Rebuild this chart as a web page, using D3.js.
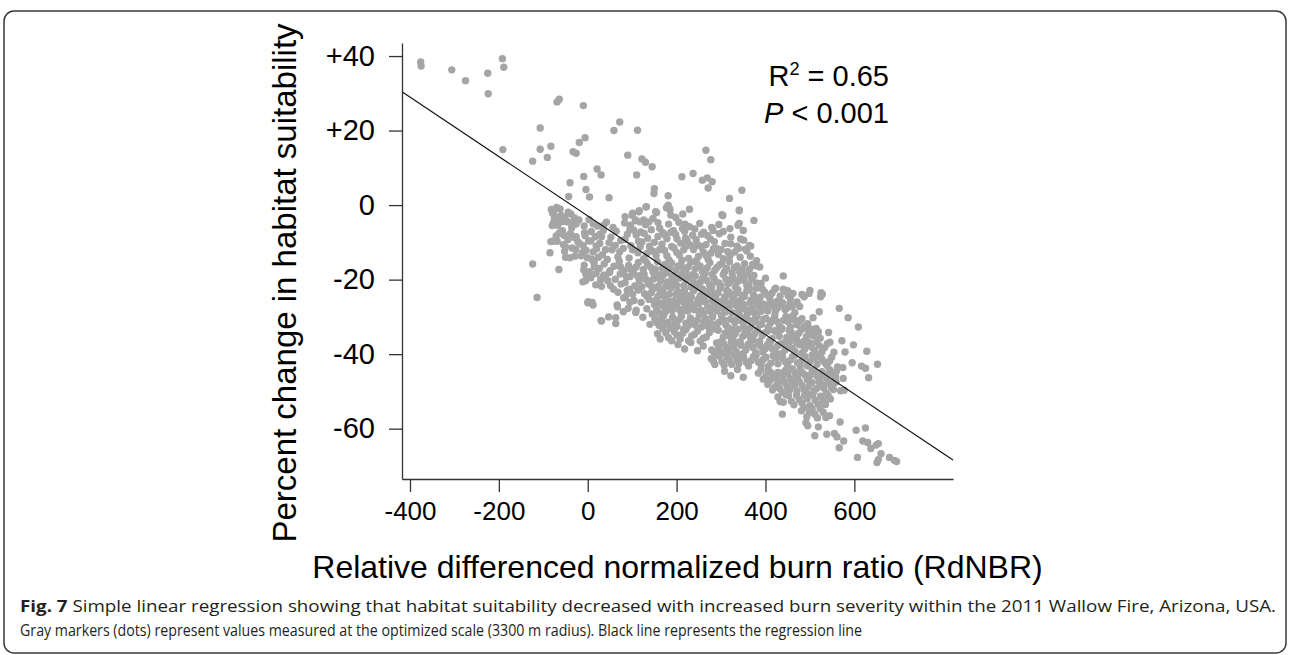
<!DOCTYPE html>
<html>
<head>
<meta charset="utf-8">
<script src="https://cdn.jsdelivr.net/npm/d3@7"></script>
<style>
  body { margin: 0; background: #fff; }
  svg { display: block; }
  .tick text { fill: #000; }
</style>
</head>
<body>
<svg width="1290" height="655"></svg>
<script>
(function () {

  // ---- data (RdNBR, % change) ----
  const xTicks = [-400, -200, 0, 200, 400, 600];
  const yTicks = [40, 20, 0, -20, -40, -60];

  // regression line as drawn
  const intercept = -2.9;
  const slope = -0.0797;
  const r2Text = "0.65";
  const pText = "< 0.001";

  const upperScatter = [
    [-376,38.4],[-375,37.3],[-306,36.3],[-275,33.4],[-225,35.4],[-224,29.9],[-192,39.3],[-189,37],[-191,14.9],
    [-69,27.7],[-64,28.4],[-10,26.7],[-107,20.7],[-124,11.8],[-107,15.0],[-91,12.8],[-83,15.8],[-33,14.3],
    [-26,13.9],[-19,16.8],[-6,18.1],[59,20],[72,22.3],[112,20.1],[90,13.4],[122,12.4],[130,11.5],[145,10.3],
    [110,8.1],[21,9.7],[30,8.1],[-9,7.7],[-40,6.0],[-4,4.2],[4,2.2],[-43,2.3],[48,2.0],[150,4.4],[149,3.1],
    [181,2.5],[212,7.6],[237,8.5],[266,14.7],[277,12.2],[258,6.7],[269,7.3],[280,6.3],[271,4.6],[319,1.8],[347,4.0]
  ];

  const edgeScatter = [
    [304,-2.8],[341,-1.3],[341,-4.9],[374,-4.1],[320,-6.3],[282,-6.8],[295,-5.2],[219,-5.1],[181,0],[185,-1.3],
    [187,-2.7],[177,-0.7],[344,-9.1],[322,-10.4],[340,-11.6],[358,-12.3],[367,-11.0],[380,-14.9],[387,-16.6],
    [440,-19.0],[423,-22.3],[450,-23.0],[525,-23.5],[528,-23.9],[487,-24.6],[498,-23.7],[521,-28.6],[566,-27.7],
    [586,-30.2],[609,-32.7],[572,-36.4],[598,-37.5],[579,-39.4],[628,-39.2],[616,-43.2],[625,-43.8],[632,-46.3],
    [652,-42.7],[595,-42.3],[575,-46.5],[577,-49.7],[558,-46.1],[551,-48.8],[542,-34.2],[562,-43.4],[574,-43.6]
  ];

  const lowerScatter = [
    [438,-56.1],[491,-58.4],[495,-59.2],[511,-61.9],[519,-59.5],[538,-61.5],[555,-61.3],[561,-62.2],[568,-58.2],
    [576,-63.3],[566,-65.1],[604,-60.4],[625,-59.8],[619,-63.3],[630,-63.7],[637,-65.3],[649,-64.4],[654,-64.0],
    [660,-66.7],[607,-67.7],[651,-69.1],[654,-68.3],[679,-67.7],[690,-68.5],[695,-68.8]
  ];

  const leftCloud = [
    [-124,-15.8],[-114,-24.8],[-85,-12.8],[-79,-9.7],[-69,-9.7],[-77,-1.5],[-69,-0.9],[-79,-2.2],[-73,-3.1],
    [-77,-4.7],[-68,-5.4],[-58,-4.5],[-47,-4.5],[-39,-4.7],[-28,-5.1],[-54,-8.1],[-39,-7.6],[-50,-11.2],
    [-65,-17.3],[-50,-14],[-29,-13.7],[-26,-8.5],[-12,-12.8],[-9,-17.4],[-11,-20.6],[-5,-20.3],[1,-25.9],
    [10,-26.1],[31,-31.1],[63,-30.2],[66,-26.8],[85,-24.6],[91,-27.7],[108,-28.8],[15,-16.5],[14,-15.5],
    [17,-8.5],[2,-9.6],[-7,-7.4],[36,-5.4],[57,-6],[36,-18.8],[50,-17.6],[74,-16.6],[87,-19.2],[96,-5.4],
    [108,-4],[117,-4.5],[100,-2.7],[115,-1.8],[132,-0.4],[126,-4],[138,-4.5],[153,-1.8],
    [-75,-3.6],[-62,-1.0],[-52,-3.3],[-38,-2.4],[-20,-4.0],[-8,-5.6],[3,-3.9],[12,-5.0],[27,-7.9],[42,-4.6],
    [52,-8.6],[64,-7.0],[74,-9.5],[62,-10.8],[72,-12.5],[-64,-7.5],[-45,-9.3],[-35,-11.5],[-22,-9.9],[-10,-10.9],
    [-1,-14.1],[12,-12.6],[27,-10.3],[40,-12.0],[24,-14.0],[-4,-18.6],[19,-18.4],[31,-21.8],[45,-20.3],[58,-22.6],
    [75,-21.2],[89,-22.9],[101,-23.9],[114,-22.8],[104,-25.6],[120,-26.1],[133,-27.8],[124,-30.1],[140,-32.0],[145,-29.2]
  ];

  const cloudUpper = [
    [-82,-1.2],[-70,-0.6],[-60,-2.8],[-44,-1.9],[-30,-3.4],[84,-3.1],[101,-2.2],[116,-1.5],[131,-0.5],[147,-3.6],
    [155,-2.0],[184,-0.8],[198,-3.3],[214,-2.4],[229,-1.1],[302,-2.6],[341,-1.5],
    [-80,-5.5],[-68,-4.6],[-57,-6.9],[-47,-4.4],[-36,-6.1],[-26,-5.0],[8,-7.1],[22,-5.6],[35,-6.8],[83,-4.8],
    [95,-6.4],[107,-4.2],[119,-7.2],[130,-5.3],[143,-6.6],[158,-4.7],[169,-7.4],[182,-5.1],[193,-6.9],[205,-4.6],
    [218,-7.0],[229,-5.8],[241,-6.4],[252,-4.9],[261,-7.3],[279,-6.0],[305,-7.1],[338,-5.4],[350,-6.8],
    [-83,-9.8],[-71,-8.3],[-55,-10.6],[-30,-8.7],[-18,-10.4],[-6,-8.2],[7,-9.6],[19,-11.0],[31,-8.5],[48,-10.1],
    [84,-9.2],[97,-10.9],[109,-8.0],[122,-9.9],[139,-11.0],[158,-8.4],[167,-10.5],[178,-9.0],[189,-11.1],[198,-7.9],
    [209,-10.2],[220,-8.8],[233,-10.8],[244,-9.3],[256,-7.8],[266,-10.6],[276,-9.1],[309,-10.3],[322,-8.6],
    [336,-11.0],[351,-9.4],[364,-10.8],
    [-52,-12.4],[-40,-14.1],[-27,-11.9],[-15,-13.6],[-4,-12.1],[9,-14.5],[20,-11.7],[33,-13.3],[44,-14.6],
    [55,-12.0],[68,-13.9],[80,-11.6],[93,-14.2],[113,-12.8],[126,-14.4],[140,-11.8],[154,-13.5],[173,-12.2],
    [183,-14.7],[194,-11.5],[206,-13.4],[216,-12.0],[227,-14.3],[238,-11.9],[249,-13.8],[260,-12.5],[271,-14.6],
    [283,-11.7],[294,-13.2],[305,-14.4],[331,-12.6],[343,-14.0],[355,-11.8],[366,-13.7],
    [89,-7.8],[103,-6.7],[114,-9.7],[127,-7.6],[135,-8.9],[150,-10.0],[162,-6.2],[174,-8.0],[187,-7.3],[201,-9.1],
    [213,-6.3],[224,-9.7],[236,-8.1],[248,-10.7],[270,-8.2],[285,-9.8],[296,-7.7],[290,-11.6],[315,-12.5],
    [101,-12.0],[118,-11.2],[133,-13.0],[147,-12.4],[162,-11.9],[178,-13.6],[200,-12.7],[212,-14.8],[222,-11.0],
    [244,-14.9],[255,-11.1],[266,-13.5],[277,-12.9],[300,-11.9],[320,-13.6]
  ];

  const cloudMiddle = [
    [-8,-16.1],[4,-17.9],[14,-15.3],[26,-17.0],[37,-15.8],[49,-18.1],[59,-16.4],[71,-15.1],[82,-17.6],[92,-16.2],
    [103,-18.2],[114,-15.4],[125,-17.3],[135,-16.0],[147,-18.0],[157,-15.2],[168,-16.9],[178,-18.2],[189,-15.6],
    [199,-17.4],[210,-16.1],[221,-18.0],[232,-15.3],[242,-17.1],[253,-16.4],[264,-18.1],[275,-15.5],[286,-17.5],
    [297,-16.0],[308,-17.9],[319,-15.2],[330,-16.8],[342,-18.0],[353,-15.7],[364,-17.2],[378,-16.3],
    [7,-19.5],[18,-21.4],[29,-20.0],[40,-18.8],[51,-21.6],[62,-19.9],[73,-18.5],[84,-20.8],[95,-19.2],[106,-21.7],
    [116,-20.3],[127,-18.6],[137,-21.2],[148,-19.8],[158,-21.8],[169,-18.9],[179,-20.6],[190,-19.3],[200,-21.5],
    [211,-18.7],[221,-20.1],[232,-21.9],[242,-19.0],[253,-20.7],[263,-18.4],[274,-21.3],[284,-19.6],[295,-20.9],
    [305,-18.6],[316,-21.1],[326,-19.4],[337,-20.6],[347,-18.9],[358,-21.6],[369,-19.8],[380,-20.9],
    [68,-23.4],[81,-24.9],[94,-22.6],[128,-23.8],[138,-25.3],[148,-22.4],[158,-24.5],[168,-23.1],[178,-25.4],
    [188,-22.2],[198,-24.0],[208,-25.2],[218,-22.9],[228,-24.3],[238,-23.0],[248,-25.4],[258,-22.5],[268,-24.1],
    [278,-23.2],[288,-25.1],[298,-22.3],[308,-24.6],[318,-23.4],[328,-25.3],[338,-22.7],[348,-24.2],[358,-23.0],
    [368,-25.5],[378,-22.4],[388,-24.7],[398,-23.3],[410,-25.0],[421,-22.6],[433,-24.4],[446,-23.1],[456,-25.2],
    [482,-24.0],[500,-22.9],[524,-24.6],
    [0,-26.2],[12,-26.8],[67,-27.3],[80,-28.6],[95,-26.1],[109,-28.2],[150,-26.7],[160,-28.9],[170,-27.1],
    [180,-25.8],[190,-28.3],[200,-26.5],[210,-28.8],[220,-27.2],[230,-25.9],[240,-28.1],[250,-26.4],[260,-29.0],
    [270,-27.4],[280,-25.7],[290,-28.4],[300,-26.9],[310,-28.7],[320,-27.0],[330,-25.8],[340,-28.2],[350,-26.6],
    [360,-29.0],[370,-27.5],[380,-26.0],[390,-28.5],[400,-27.0],[411,-25.9],[422,-28.6],[433,-26.8],[444,-28.0],
    [455,-26.3],[466,-28.9],[477,-27.2],
    [97,-17.2],[109,-16.6],[120,-18.9],[131,-15.1],[142,-16.7],[152,-17.2],[163,-18.7],[173,-15.9],[184,-17.0],
    [194,-18.9],[204,-16.3],[216,-17.3],[226,-16.6],[237,-18.6],[247,-15.9],[258,-17.8],[269,-16.8],[280,-18.6],
    [291,-16.7],[302,-15.8],[313,-17.0],[325,-18.3],[336,-16.3],[348,-17.3],[359,-18.6],[371,-15.9],
    [112,-19.0],[122,-21.9],[132,-20.0],[143,-21.7],[153,-19.1],[164,-20.4],[174,-22.0],[185,-21.0],[195,-20.1],
    [206,-19.6],[216,-21.6],[226,-19.2],[237,-20.6],[247,-21.4],[258,-19.7],[268,-20.2],[279,-22.1],[289,-20.6],
    [300,-21.6],[311,-19.9],[321,-20.4],[332,-21.9],[342,-19.6],[352,-20.2],[363,-21.3],[374,-18.9],[390,-21.0],[400,-19.6],
    [133,-24.4],[143,-23.5],[153,-25.5],[163,-23.3],[173,-24.6],[183,-23.9],[193,-25.7],[203,-23.2],[213,-24.2],
    [223,-25.7],[233,-24.6],[243,-22.3],[253,-24.3],[263,-25.6],[273,-22.9],[283,-24.3],[293,-23.6],[303,-25.8],
    [313,-22.9],[323,-24.3],[333,-23.7],[343,-25.6],[353,-24.5],[363,-22.7],[373,-24.2],[383,-25.5],[393,-22.6],
    [404,-24.1],[415,-23.6],[427,-25.8],[440,-22.6],[451,-24.3],[462,-23.7],
    [155,-28.0],[165,-26.4],[175,-28.6],[185,-27.2],[195,-26.9],[205,-27.9],[215,-26.0],[225,-28.4],[235,-27.1],
    [245,-26.5],[255,-28.2],[265,-26.0],[275,-28.5],[285,-27.0],[295,-25.9],[305,-27.8],[315,-26.2],[325,-28.9],
    [335,-27.0],[345,-26.4],[355,-28.0],[365,-26.3],[375,-28.9],[385,-27.2],[395,-26.5],[405,-28.4],[416,-27.1],
    [427,-27.6],[438,-26.2],[449,-27.6],[460,-27.2],[471,-26.0]
  ];

  const cloudLower = [
    [30,-31.0],[47,-30.0],[63,-31.8],[151,-30.5],[161,-32.3],[171,-29.6],[181,-31.4],[191,-30.1],[201,-32.5],
    [211,-29.8],[221,-31.7],[231,-30.3],[241,-32.1],[251,-29.5],[261,-31.2],[271,-32.6],[281,-30.0],[291,-31.9],
    [301,-29.7],[311,-32.2],[321,-30.6],[331,-31.5],[341,-29.4],[351,-32.4],[361,-30.8],[371,-31.6],[381,-29.9],
    [391,-32.0],[401,-30.4],[411,-31.7],[421,-29.6],[431,-32.5],[441,-30.9],[451,-31.3],[461,-29.8],[471,-32.1],
    [482,-30.5],[495,-31.8],[507,-30.2],
    [157,-34.5],[169,-33.2],[182,-35.6],[195,-34.0],[208,-35.9],[221,-33.4],[234,-35.1],[247,-33.8],[260,-35.7],
    [274,-34.2],[294,-33.6],[305,-35.4],[316,-34.0],[327,-36.0],[338,-33.3],[349,-35.2],[360,-34.4],[371,-36.1],
    [382,-33.5],[393,-35.0],[404,-33.9],[415,-35.8],[426,-34.1],[437,-33.0],[448,-35.5],[459,-34.3],[470,-36.0],
    [481,-33.4],[492,-35.3],[503,-34.6],[514,-33.1],[523,-35.7],
    [203,-37.4],[218,-38.6],[232,-36.9],[247,-39.1],[260,-37.8],[279,-38.9],[290,-37.0],[301,-39.5],[312,-38.1],
    [323,-36.7],[334,-39.3],[345,-37.6],[356,-38.8],[367,-36.5],[378,-39.6],[389,-37.9],[400,-38.5],[411,-36.8],
    [422,-39.4],[433,-37.3],[444,-38.9],[455,-36.6],[466,-39.2],[477,-37.5],[488,-38.7],[499,-36.9],[510,-39.0],
    [521,-37.7],[533,-38.3],[545,-36.8],[554,-39.5],
    [278,-41.2],[286,-42.8],[296,-40.5],[307,-43.0],[318,-41.6],[329,-40.2],[340,-42.5],[351,-41.0],[362,-43.2],
    [373,-40.7],[384,-42.1],[395,-41.4],[406,-43.3],[417,-40.4],[428,-42.6],[439,-41.1],[450,-43.0],[461,-40.6],
    [472,-42.3],[483,-41.5],[494,-43.1],[505,-40.3],[516,-42.7],[527,-41.3],[538,-43.0],[549,-40.8],
    [308,-44.6],[322,-45.8],[337,-44.1],[350,-46.2],[384,-45.1],[395,-46.7],[406,-44.4],[417,-46.0],[428,-44.9],
    [439,-46.6],[450,-45.3],[461,-44.0],[472,-46.4],[483,-45.0],[494,-46.8],[505,-44.3],[516,-45.9],[527,-44.7],
    [538,-46.5],[549,-45.2],[560,-44.5],
    [405,-48.1],[416,-49.6],[427,-47.8],[438,-50.2],[449,-48.7],[460,-47.4],[471,-49.9],[482,-48.3],[493,-50.4],
    [504,-47.6],[515,-49.2],[526,-48.0],[537,-50.5],[548,-48.9],[559,-47.5],[569,-49.8],
    [428,-51.5],[440,-52.9],[452,-51.1],[464,-53.6],[476,-52.2],[488,-51.0],[500,-53.8],[512,-52.4],[524,-51.3],
    [535,-53.5],[546,-52.0],
    [481,-55.2],[493,-56.8],[505,-54.7],[517,-57.1],[530,-55.6],[544,-56.5],
    [156,-31.6],[166,-30.6],[176,-31.9],[186,-33.0],[196,-31.8],[206,-30.7],[216,-33.3],[226,-32.4],[236,-31.2],
    [246,-30.9],[256,-32.7],[266,-30.5],[276,-31.6],[286,-33.2],[296,-31.4],[306,-30.8],[316,-32.9],[326,-33.4],
    [336,-30.6],[346,-31.1],[356,-30.0],[366,-32.9],[376,-30.6],[386,-31.9],[396,-30.6],[406,-32.8],[416,-30.9],
    [426,-31.2],[436,-33.4],[446,-29.9],[456,-32.7],[466,-30.9],[476,-31.1],[488,-32.5],[500,-33.2],
    [163,-35.9],[176,-34.3],[189,-36.4],[201,-34.9],[214,-34.4],[227,-36.4],[240,-34.7],[253,-36.5],[267,-35.4],
    [299,-36.7],[310,-34.3],[321,-35.3],[332,-34.5],[343,-36.6],[354,-33.8],[365,-35.2],[376,-34.6],[387,-36.5],
    [398,-34.3],[409,-36.4],[420,-33.7],[431,-35.2],[442,-36.9],[453,-33.6],[464,-35.3],[475,-34.4],[486,-36.6],
    [497,-33.8],[508,-35.1],[519,-34.0],
    [284,-39.5],[295,-38.2],[306,-37.2],[317,-39.2],[328,-38.0],[339,-37.1],[350,-39.8],[361,-37.4],[372,-38.2],
    [383,-37.0],[394,-39.4],[405,-37.4],[416,-38.6],[427,-37.8],[438,-39.8],[449,-37.9],[460,-38.4],[471,-37.0],
    [482,-39.7],[493,-37.8],[504,-38.1],[515,-36.7],[527,-39.4],[539,-37.2],
    [283,-41.9],[291,-40.1],[302,-42.0],[313,-40.6],[324,-42.7],[335,-41.2],[346,-40.4],[357,-42.2],[368,-41.7],
    [379,-40.3],[390,-42.9],[401,-40.8],[412,-42.4],[423,-41.0],[434,-40.0],[445,-42.1],[456,-41.6],[467,-40.2],
    [478,-43.0],[489,-40.6],[500,-42.0],[511,-41.0],[522,-40.2],[533,-42.2],[544,-41.9],
    [390,-44.2],[401,-45.8],[412,-44.9],[423,-46.4],[434,-45.1],[445,-44.3],[456,-46.6],[467,-45.1],[478,-44.2],
    [489,-45.6],[500,-45.7],[511,-44.6],[522,-46.6],[533,-45.6],[544,-44.1],[555,-46.9],
    [410,-47.1],[421,-48.8],[432,-49.2],[443,-47.6],[454,-49.6],[465,-48.4],[476,-47.3],[487,-49.5],[498,-48.6],
    [509,-50.0],[520,-47.4],[531,-49.1],[542,-47.7],[553,-49.5],
    [433,-52.7],[446,-50.9],[458,-52.6],[470,-51.0],[482,-53.1],[494,-52.0],[506,-51.0],[518,-53.4],[530,-52.5],
    [541,-51.1],[487,-54.3],[499,-55.6],[511,-56.1],[523,-54.6],[536,-57.0]
  ];

  const captionBold = "Fig. 7";
  const captionLine1 = " Simple linear regression showing that habitat suitability decreased with increased burn severity within the 2011 Wallow Fire, Arizona, USA.";
  const captionLine2 = "Gray markers (dots) represent values measured at the optimized scale (3300 m radius). Black line represents the regression line";

  // ---- layout ----
  const svg = d3.select("svg");
  const plot = { left: 402, right: 953, top: 43, bottom: 479 };
  const font = "'Liberation Sans', Arial, Helvetica, sans-serif";

  const x = d3.scaleLinear().domain([-418, 822]).range([plot.left, plot.right]);
  const y = d3.scaleLinear().domain([-73.5, 43.5]).range([plot.bottom, plot.top]);

  // frame
  svg.append("rect")
    .attr("x", 4).attr("y", 11)
    .attr("width", 1282).attr("height", 642)
    .attr("rx", 10).attr("ry", 10)
    .attr("fill", "none")
    .attr("stroke", "#3a3a3a")
    .attr("stroke-width", 1.5);

  // points
  const allPoints = [].concat(upperScatter, edgeScatter, lowerScatter, leftCloud, cloudUpper, cloudMiddle, cloudLower);
  svg.append("g")
    .selectAll("circle")
    .data(allPoints)
    .enter().append("circle")
    .attr("cx", d => x(d[0]))
    .attr("cy", d => y(d[1]))
    .attr("r", 3.7)
    .attr("fill", "#a5a5a5");

  // regression line
  const xd = x.domain();
  svg.append("line")
    .attr("x1", x(xd[0])).attr("y1", y(intercept + slope * xd[0]))
    .attr("x2", x(xd[1])).attr("y2", y(intercept + slope * xd[1]))
    .attr("stroke", "#111")
    .attr("stroke-width", 1.2);

  // axes
  const xAxis = d3.axisBottom(x).tickValues(xTicks).tickSize(13).tickSizeOuter(0).tickPadding(10)
    .tickFormat(d => `${d}`);
  const yAxis = d3.axisLeft(y).tickValues(yTicks).tickSize(13).tickSizeOuter(0).tickPadding(14)
    .tickFormat(d => d > 0 ? `+${d}` : `${d}`);

  const gx = svg.append("g").attr("transform", `translate(0,${plot.bottom})`).call(xAxis);
  const gy = svg.append("g").attr("transform", `translate(${plot.left},0)`).call(yAxis);

  [gx, gy].forEach(g => {
    g.select(".domain").attr("stroke", "#333").attr("stroke-width", 1.3);
    g.selectAll(".tick line").attr("stroke", "#333").attr("stroke-width", 1.3);
    g.selectAll(".tick text").attr("font-family", font);
  });
  gx.selectAll(".tick text").attr("font-size", 26);
  gy.selectAll(".tick text").attr("font-size", 29);

  // axis titles
  svg.append("text")
    .attr("x", (plot.left + plot.right) / 2)
    .attr("y", 578)
    .attr("text-anchor", "middle")
    .attr("font-family", font)
    .attr("font-size", 32)
    .text("Relative differenced normalized burn ratio (RdNBR)");

  svg.append("text")
    .attr("transform", "translate(296,283) rotate(-90)")
    .attr("text-anchor", "middle")
    .attr("font-family", font)
    .attr("font-size", 33)
    .text("Percent change in habitat suitability");

  // stats
  const r2 = svg.append("text")
    .attr("x", 889).attr("y", 86)
    .attr("text-anchor", "end")
    .attr("font-family", font)
    .attr("font-size", 29);
  r2.append("tspan").text("R");
  r2.append("tspan").attr("font-size", 18).attr("dy", -11).text("2");
  r2.append("tspan").attr("dy", 11).text(` = ${r2Text}`);

  const p = svg.append("text")
    .attr("x", 889).attr("y", 123)
    .attr("text-anchor", "end")
    .attr("font-family", font)
    .attr("font-size", 29);
  p.append("tspan").attr("font-style", "italic").text("P");
  p.append("tspan").text(` ${pText}`);

  // caption
  const capFont = "'Open Sans', 'Noto Sans', sans-serif";
  const c1 = svg.append("text")
    .attr("x", 20).attr("y", 612)
    .attr("font-family", capFont)
    .attr("font-size", 16.5)
    .attr("fill", "#231f20")
    .attr("textLength", 1256)
    .attr("lengthAdjust", "spacingAndGlyphs");
  c1.append("tspan").attr("font-weight", "bold").text(captionBold);
  c1.append("tspan").text(captionLine1);

  svg.append("text")
    .attr("x", 20).attr("y", 636)
    .attr("font-family", capFont)
    .attr("font-size", 16.5)
    .attr("fill", "#231f20")
    .attr("textLength", 842)
    .attr("lengthAdjust", "spacingAndGlyphs")
    .text(captionLine2);

}());
</script>
</body>
</html>
